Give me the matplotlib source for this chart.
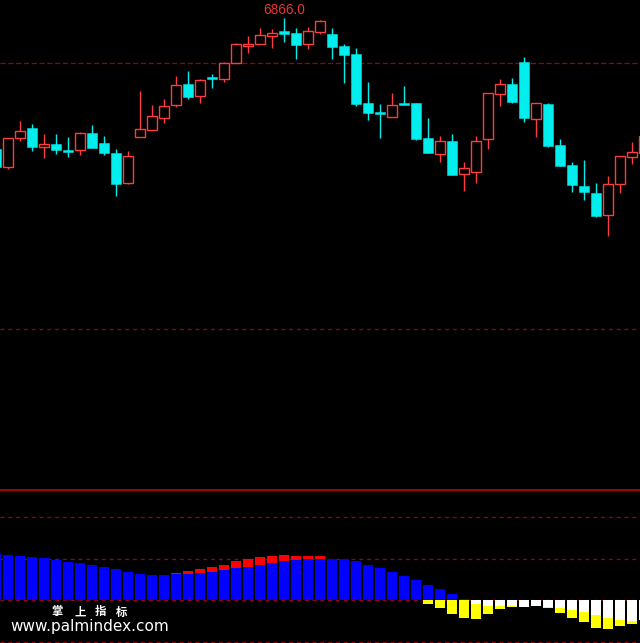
import matplotlib
matplotlib.use("Agg")
import matplotlib.pyplot as plt
from matplotlib.patches import Rectangle
from matplotlib.lines import Line2D

plt.rcParams['font.family'] = ['Noto Sans CJK SC', 'DejaVu Sans']

# ---------------- data ----------------
opens = [6604, 6569, 6627, 6646, 6609, 6614, 6602, 6603, 6636, 6616,
         6596, 6537, 6629, 6643, 6667, 6693, 6734, 6711, 6748, 6745,
         6777, 6811, 6815, 6831, 6840, 6836, 6815, 6839, 6834, 6810,
         6794, 6696, 6678, 6669, 6696, 6696, 6626, 6595, 6620, 6555,
         6559, 6625, 6715, 6734, 6778, 6665, 6694, 6612, 6572, 6530,
         6516, 6473, 6535, 6589, 6597]
highs = [6608, 6627, 6660, 6654, 6634, 6634, 6628, 6638, 6652, 6630,
         6604, 6600, 6720, 6692, 6704, 6750, 6760, 6745, 6754, 6778,
         6816, 6830, 6846, 6844, 6866, 6846, 6848, 6862, 6846, 6814,
         6806, 6738, 6694, 6716, 6730, 6696, 6666, 6630, 6634, 6578,
         6630, 6716, 6744, 6746, 6788, 6696, 6696, 6624, 6578, 6582,
         6536, 6550, 6590, 6618, 6634]
lows = [6564, 6565, 6621, 6601, 6587, 6595, 6589, 6593, 6607, 6593,
        6511, 6535, 6629, 6643, 6657, 6689, 6705, 6697, 6727, 6739,
        6777, 6797, 6815, 6807, 6819, 6785, 6805, 6835, 6785, 6737,
        6691, 6663, 6627, 6669, 6693, 6623, 6597, 6579, 6553, 6521,
        6537, 6605, 6691, 6697, 6659, 6629, 6609, 6571, 6519, 6503,
        6469, 6431, 6517, 6575, 6596]
closes = [6568, 6627, 6641, 6609, 6614, 6602, 6599, 6636, 6607, 6597,
          6535, 6590, 6645, 6670, 6690, 6732, 6709, 6743, 6745, 6776,
          6814, 6814, 6832, 6836, 6835, 6813, 6840, 6860, 6809, 6793,
          6695, 6677, 6675, 6693, 6693, 6625, 6597, 6620, 6553, 6566,
          6620, 6716, 6734, 6699, 6667, 6696, 6611, 6571, 6533, 6519,
          6471, 6534, 6590, 6598, 6630]
ref_level = 6777
mid_level = 6244
high_label = "6866.0"

# indicator panel: front bars (blue / white) and back bars (red / yellow)
front = [46, 45, 44, 43, 42, 40, 38, 37, 35, 33,
         31, 28, 26, 25, 25, 26, 26, 27, 28, 30,
         32, 33, 35, 37, 39, 40, 41, 41, 41, 41,
         39, 35, 32, 28, 24, 20, 15, 11, 6, 1,
         -4, -6, -6, -6, -7, -6, -7, -8, -10, -12,
         -15, -18, -20, -21, -20]
back = [44, 42, 40, 38, 36, 34, 32, 30, 28, 26,
        24, 23, 23, 23, 24, 27, 29, 31, 33, 35,
        39, 41, 43, 44, 45, 44, 44, 44, 38, 33,
        27, 21, 15, 10, 5, 1, -4, -8, -14, -18,
        -19, -14, -9, -7, -5, -5, -8, -13, -18, -22,
        -28, -29, -26, -24, -19]
ind_levels = [82.7, 40.7, 0, -42.3]

wm_chars = ["掌", "上", "指", "标"]
wm_url = "www.palmindex.com"

# ---------------- style ----------------
W, H = 640, 643
PX = 72.0 / 100.0  # one pixel in points
UP = '#ff3c3c'
DOWN = '#00eeee'
DASH_RED = '#a00000'
SOLID_RED = '#dd0000'

fig = plt.figure(figsize=(W / 100, H / 100), dpi=100, facecolor='black')
ax = fig.add_axes([0, 153 / H, 1, 490 / H])
axl = fig.add_axes([0, 0, 1, 153 / H])
for a in (ax, axl):
    a.set_facecolor('black')
    a.set_axis_off()
    a.set_xlim(1 / 3, 53 + 2 / 3)

n = len(opens)
bw = 0.89

# price panel
ax.set_ylim(5922, 6902)
ax.axhline(ref_level, color=DASH_RED, lw=1.3 * PX, ls=(0, (4, 2)), zorder=1)
ax.axhline(mid_level, color=DASH_RED, lw=1.3 * PX, ls=(0, (3, 3)), zorder=1)
for i in range(n):
    o, h, l, c = opens[i], highs[i], lows[i], closes[i]
    if c >= o:
        top, bot = c, o
        ax.plot([i, i], [top, h], color=UP, lw=1.4 * PX, zorder=2, solid_capstyle='butt')
        ax.plot([i, i], [l, bot], color=UP, lw=1.4 * PX, zorder=2, solid_capstyle='butt')
        ax.add_patch(Rectangle((i - bw / 2, bot), bw, max(top - bot, 1.5),
                               facecolor='black', edgecolor=UP, lw=1.4 * PX, zorder=3))
    else:
        top, bot = o, c
        ax.plot([i, i], [l, h], color=DOWN, lw=1.4 * PX, zorder=2, solid_capstyle='butt')
        ax.add_patch(Rectangle((i - bw / 2, bot), bw, max(top - bot, 3),
                               facecolor=DOWN, edgecolor=DOWN, lw=0.5 * PX, zorder=3))

imax = highs.index(max(highs))
ax.annotate(high_label, xy=(imax, highs[imax]), xytext=(0, 0.5), textcoords='offset points',
            ha='center', va='bottom', color='#ee3333', fontsize=9.8,
            family=['Liberation Sans'])

# indicator panel
axl.set_ylim(-43, 110)
for lv in ind_levels:
    axl.axhline(lv, color=DASH_RED, lw=1.3 * PX, ls=(0, (3, 3)), zorder=1)
x = list(range(n))
back_col = ['#ff0000' if v >= 0 else '#ffff00' for v in back]
front_col = ['#0000ff' if v >= 0 else '#ffffff' for v in front]
axl.bar(x, back, width=bw, color=back_col, linewidth=0, zorder=2)
axl.bar(x, front, width=bw, color=front_col, linewidth=0, zorder=3)

# separator line
fig.add_artist(Line2D([0, 1], [1 - 490.3 / H, 1 - 490.3 / H], transform=fig.transFigure,
                      color=SOLID_RED, lw=1.5 * PX))

# watermark
for ch, cx in zip(wm_chars, [57, 80, 100, 122]):
    fig.text(cx / W, 1 - 612 / H, ch, color='white', fontsize=8.2,
             fontweight='bold', ha='center', va='center')
fig.text(10 / W, 1 - 626 / H, wm_url, color='white', fontsize=11,
         ha='left', va='center', family=['DejaVu Sans'])

fig.savefig('out.png', dpi=100, facecolor='black')
